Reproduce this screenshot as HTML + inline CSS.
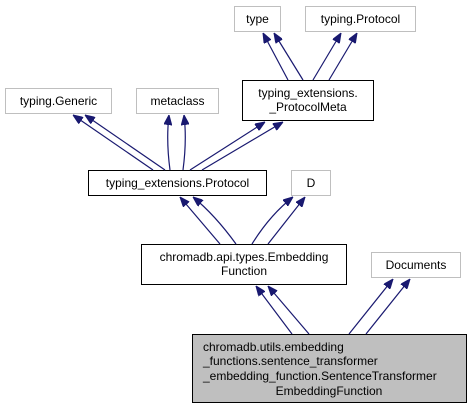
<!DOCTYPE html>
<html><head><meta charset="utf-8"><style>
html,body{margin:0;padding:0;background:#fff;}
svg{display:block;}
text{font-family:"Liberation Sans",Arial,sans-serif;font-size:12px;fill:#000;}
</style></head><body>
<svg width="472" height="409" viewBox="0 0 472 409" xmlns="http://www.w3.org/2000/svg">
<defs>
<marker id="a" markerWidth="10" markerHeight="8" refX="10" refY="4" orient="auto" markerUnits="userSpaceOnUse">
<path d="M0,0 L10,4 L0,8 Z" fill="#191970" stroke="#191970"/>
</marker>
</defs>
<g fill="#fff" stroke="#bfbfbf">
<rect x="234.5" y="6.5" width="46" height="25"/>
<rect x="305.5" y="6.5" width="110" height="25"/>
<rect x="5.5" y="88.5" width="106" height="25"/>
<rect x="136.5" y="88.5" width="82" height="25"/>
<rect x="291.5" y="170.5" width="39" height="25"/>
<rect x="371.5" y="252.5" width="89" height="25"/>
</g>
<g fill="#fff" stroke="#000">
<rect x="242.5" y="80.5" width="131" height="40"/>
<rect x="88.5" y="170.5" width="178" height="25"/>
<rect x="141.5" y="244.5" width="205" height="40"/>
</g>
<rect x="192.5" y="334.5" width="274" height="68" fill="#bfbfbf" stroke="#000"/>
<g stroke="#191970" stroke-width="1.2" fill="none" marker-end="url(#a)">
<path d="M288,80 L263,33"/>
<path d="M303,80 L274,33"/>
<path d="M313,80 L341,33"/>
<path d="M329,80 L357,33"/>
<path d="M153,170 L73,115"/>
<path d="M165,170 L85,115"/>
<path d="M170,170 Q166,140 169,115"/>
<path d="M183,170 Q187,140 184,115"/>
<path d="M190,170 L265,122"/>
<path d="M202,170 L283,122"/>
<path d="M220,244 L180,197"/>
<path d="M236,244 Q215,215 193,197"/>
<path d="M252,244 Q270,215 293,197"/>
<path d="M268,244 L305,197"/>
<path d="M292,334 L256,286"/>
<path d="M309,334 L268,286"/>
<path d="M349,334 L393,279"/>
<path d="M366,334 L410,279"/>
</g>
<g text-anchor="middle">
<text x="257.5" y="23">type</text>
<text x="360.5" y="23">typing.Protocol</text>
<text x="58.5" y="105">typing.Generic</text>
<text x="177.5" y="105">metaclass</text>
<text x="308" y="97">typing_extensions.</text>
<text x="308" y="111">_ProtocolMeta</text>
<text x="177.5" y="187">typing_extensions.Protocol</text>
<text x="311" y="187">D</text>
<text x="244" y="261">chromadb.api.types.Embedding</text>
<text x="244" y="275">Function</text>
<text x="416" y="269">Documents</text>
<text x="329" y="395">EmbeddingFunction</text>
</g>
<text x="203" y="351">chromadb.utils.embedding</text>
<text x="203" y="365">_functions.sentence_transformer</text>
<text x="203" y="380">_embedding_function.SentenceTransformer</text>
</svg>
</body></html>
